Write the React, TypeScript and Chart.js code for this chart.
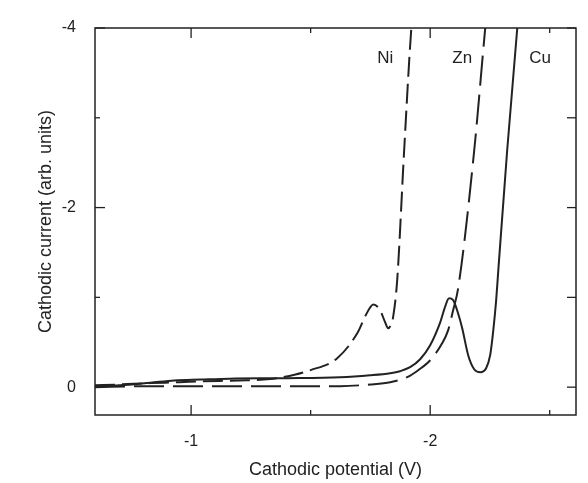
import { useEffect, useRef } from "react";
import { Chart, registerables } from "chart.js";

Chart.register(...registerables);

// Axis ticks
const potentialTicks = [-1, -1.5, -2, -2.5];
const currentTicks = [-4, -3, -2, -1, 0];

// Cu (solid)
const cuPotential = [-0.598, -0.7, -0.83, -0.93, -1.04, -1.16, -1.4, -1.623, -1.749, -1.833, -1.874, -1.916, -1.958, -2.0, -2.042, -2.063, -2.079, -2.096, -2.117, -2.134, -2.159, -2.184, -2.21, -2.234, -2.251, -2.264, -2.276, -2.285, -2.322, -2.364, -2.368];
const cuCurrent = [-0.01, -0.02, -0.05, -0.075, -0.085, -0.095, -0.1, -0.111, -0.133, -0.156, -0.178, -0.222, -0.311, -0.467, -0.722, -0.9, -0.99, -0.97, -0.82, -0.656, -0.356, -0.2, -0.167, -0.211, -0.356, -0.633, -0.967, -1.3, -2.633, -3.989, -4.1];

// Ni (dashed)
const niPotential = [-0.598, -0.7, -0.83, -0.95, -1.04, -1.2, -1.33, -1.385, -1.5, -1.61, -1.695, -1.736, -1.762, -1.79, -1.812, -1.824, -1.835, -1.845, -1.862, -1.891, -1.921, -1.925];
const niCurrent = [-0.02, -0.03, -0.045, -0.055, -0.065, -0.075, -0.09, -0.111, -0.19, -0.32, -0.6, -0.83, -0.92, -0.86, -0.72, -0.656, -0.69, -0.78, -1.19, -2.63, -3.99, -4.1];

// Zn (long dashed)
const znPotential = [-0.598, -0.8, -1.0, -1.2, -1.4, -1.623, -1.75, -1.833, -1.904, -1.95, -2.0, -2.05, -2.075, -2.096, -2.117, -2.184, -2.23, -2.234];
const znCurrent = [0, -0.01, -0.01, -0.01, -0.01, -0.011, -0.03, -0.055, -0.111, -0.189, -0.3, -0.489, -0.633, -0.856, -1.1, -2.63, -3.99, -4.1];

// Curve labels
const curveLabels = ["Ni", "Zn", "Cu"];
const labelPotential = [-1.812, -2.134, -2.46];
const labelCurrent = [-3.667, -3.667, -3.667];

const FONT = '"Liberation Sans", Arial, Helvetica, sans-serif';
const INK = "#222222";

const toPoints = (xs: number[], ys: number[]) => xs.map((x, i) => ({ x, y: ys[i] }));

const framePlugin = {
  id: "frameTicks",
  afterDatasetsDraw(chart: any) {
    const { ctx, chartArea, scales } = chart;
    const { left, right, top, bottom } = chartArea;
    const xs = scales.x;
    const ys = scales.y;
    ctx.save();
    ctx.strokeStyle = INK;
    ctx.lineWidth = 1.5;
    ctx.strokeRect(left, top, right - left, bottom - top);
    ctx.lineWidth = 1.3;
    const seg = (x1: number, y1: number, x2: number, y2: number) => {
      ctx.beginPath();
      ctx.moveTo(x1, y1);
      ctx.lineTo(x2, y2);
      ctx.stroke();
    };
    potentialTicks.forEach((v) => {
      const px = xs.getPixelForValue(v);
      const len = Number.isInteger(v) ? 10 : 5;
      seg(px, bottom, px, bottom - len);
      seg(px, top, px, top + len);
    });
    currentTicks.forEach((v) => {
      const py = ys.getPixelForValue(v);
      const len = v % 2 === 0 ? 10 : 5;
      seg(left, py, left + len, py);
      seg(right, py, right - 9, py);
    });
    ctx.fillStyle = INK;
    ctx.font = `17px ${FONT}`;
    ctx.textAlign = "center";
    ctx.textBaseline = "middle";
    curveLabels.forEach((t, i) => {
      ctx.fillText(t, xs.getPixelForValue(labelPotential[i]), ys.getPixelForValue(labelCurrent[i]));
    });
    ctx.restore();
  },
};

export default function App() {
  const canvasRef = useRef<HTMLCanvasElement | null>(null);

  useEffect(() => {
    if (!canvasRef.current) return;
    const line = { borderColor: INK, borderWidth: 2, pointRadius: 0, fill: false, cubicInterpolationMode: "monotone" as const };
    const chart = new Chart(canvasRef.current, {
      type: "line",
      data: {
        datasets: [
          { label: "Cu", data: toPoints(cuPotential, cuCurrent), ...line },
          { label: "Ni", data: toPoints(niPotential, niCurrent), ...line, borderDash: [20, 7] },
          { label: "Zn", data: toPoints(znPotential, znCurrent), ...line, borderDash: [30, 9] },
        ],
      },
      options: {
        animation: false,
        responsive: false,
        devicePixelRatio: 1,
        layout: { padding: { top: 28, right: 12, left: 0, bottom: 0 } },
        plugins: { legend: { display: false }, tooltip: { enabled: false } },
        scales: {
          x: {
            type: "linear",
            min: -2.61,
            max: -0.598,
            reverse: true,
            position: "bottom",
            grid: { display: false },
            border: { display: false },
            afterBuildTicks: (s: any) => {
              s.ticks = potentialTicks.map((v) => ({ value: v }));
            },
            afterFit: (s: any) => {
              s.height = 68;
            },
            ticks: {
              autoSkip: false,
              maxRotation: 0,
              padding: 9,
              color: INK,
              font: { family: FONT, size: 16 },
              callback: (v: any) => (Number.isInteger(v) ? String(v) : ""),
            },
            title: {
              display: true,
              text: "Cathodic potential (V)",
              color: INK,
              font: { family: FONT, size: 18 },
              padding: { top: 0, bottom: 2 },
            },
          },
          y: {
            type: "linear",
            min: -4,
            max: 0.31,
            reverse: true,
            grid: { display: false },
            border: { display: false },
            afterBuildTicks: (s: any) => {
              s.ticks = currentTicks.map((v) => ({ value: v }));
            },
            afterFit: (s: any) => {
              s.width = 95;
            },
            ticks: {
              autoSkip: false,
              padding: 11,
              color: INK,
              font: { family: FONT, size: 16 },
              callback: (v: any) => (v % 2 === 0 ? String(v) : ""),
            },
            title: {
              display: true,
              text: "Cathodic current (arb. units)",
              color: INK,
              font: { family: FONT, size: 18 },
              padding: { top: 35, bottom: 0 },
            },
          },
        },
      },
      plugins: [framePlugin],
    });
    return () => chart.destroy();
  }, []);

  return (
    <div style={{ position: "absolute", left: 0, top: 0, width: 588, height: 483, background: "#fff" }}>
      <canvas ref={canvasRef} width={588} height={483} style={{ width: 588, height: 483 }} />
    </div>
  );
}
